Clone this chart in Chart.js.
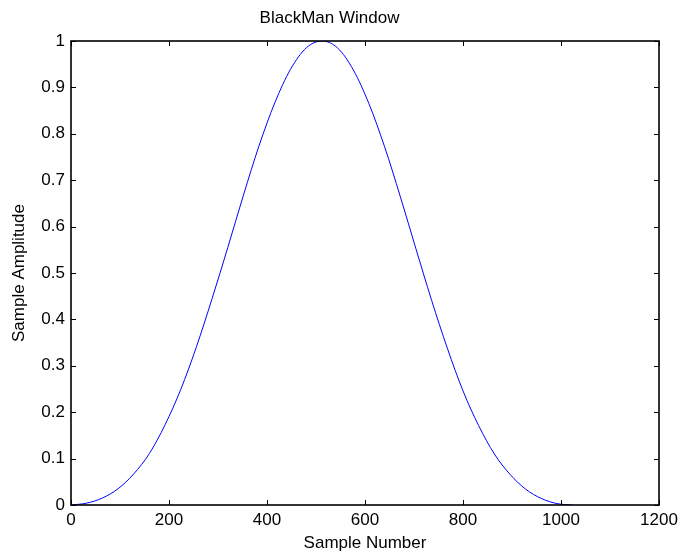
<!DOCTYPE html>
<html>
<head>
<meta charset="utf-8">
<script src="https://cdn.jsdelivr.net/npm/chart.js@4/dist/chart.umd.min.js"></script>
<style>
html,body{margin:0;padding:0;background:#fff;}
#wrap{width:680px;height:552px;}
</style>
</head>
<body>
<div id="wrap"><canvas id="c" width="680" height="552"></canvas></div>
<script>
// Sample numbers and amplitudes
const sampleNumbers = [0,32,64,96,128,160,192,224,256,288,320,352,384,416,448,480,512,544,576,608,640,672,704,736,768,800,832,864,896,928,960,992,1023];
const amplitudes = [0,0.004,0.015,0.035,0.067,0.111,0.173,0.249,0.341,0.445,0.555,0.668,0.775,0.867,0.939,0.985,1.0,0.985,0.938,0.865,0.772,0.665,0.552,0.441,0.338,0.246,0.171,0.110,0.066,0.034,0.014,0.003,0];
const xTicks = [0,200,400,600,800,1000,1200];
const yTicks = [0,0.1,0.2,0.3,0.4,0.5,0.6,0.7,0.8,0.9,1];
const xTickLabels = ['0','200','400','600','800','1000','1200'];
const yTickLabels = ['0','0.1','0.2','0.3','0.4','0.5','0.6','0.7','0.8','0.9','1'];
const titleText = 'BlackMan Window';
const xTitle = 'Sample Number';
const yTitle = 'Sample Amplitude';

const FONT = 'Liberation Sans, Arial, sans-serif';
const FS = 17;

const boxPlugin = {
  id: 'boxTicks',
  afterDraw(chart) {
    const {ctx, chartArea: a, scales: {x, y}} = chart;
    ctx.save();
    ctx.strokeStyle = '#000';
    ctx.lineWidth = 1;
    const L = 5;
    ctx.beginPath();
    xTicks.forEach(v => {
      const px = Math.round(x.getPixelForValue(v)) + 0.5;
      ctx.moveTo(px, a.bottom); ctx.lineTo(px, a.bottom - L);
      ctx.moveTo(px, a.top); ctx.lineTo(px, a.top + L);
    });
    yTicks.forEach(v => {
      const py = Math.round(y.getPixelForValue(v)) + 0.5;
      ctx.moveTo(a.left, py); ctx.lineTo(a.left + L, py);
      ctx.moveTo(a.right, py); ctx.lineTo(a.right - L, py);
    });
    ctx.stroke();
    ctx.lineWidth = 1.6;
    ctx.strokeRect(a.left, a.top, a.right - a.left, a.bottom - a.top);
    ctx.restore();
  }
};

new Chart(document.getElementById('c'), {
  type: 'line',
  data: {
    datasets: [{
      data: sampleNumbers.map((s, i) => ({x: s, y: amplitudes[i]})),
      borderColor: '#0000ff',
      borderWidth: 1,
      pointRadius: 0,
      fill: false,
      tension: 0.4,
      cubicInterpolationMode: 'monotone'
    }]
  },
  options: {
    responsive: false,
    animation: false,
    layout: {padding: {left: 0, right: 21, top: 0, bottom: 0}},
    plugins: {
      legend: {display: false},
      tooltip: {enabled: false},
      title: {
        display: true,
        text: titleText,
        color: '#000',
        font: {family: FONT, size: FS, weight: 'normal', lineHeight: 1.2},
        padding: {top: 8, bottom: 12.6}
      }
    },
    scales: {
      x: {
        type: 'linear',
        min: 0, max: 1200,
        afterBuildTicks(s) { s.ticks = xTicks.map(v => ({value: v})); },
        afterFit(s) { s.height = 47; s.paddingLeft = 0; s.paddingRight = 0; },
        grid: {display: false, drawTicks: false},
        border: {display: false},
        ticks: {
          color: '#000',
          padding: 5,
          maxRotation: 0,
          autoSkip: false,
          font: {family: FONT, size: FS},
          callback: (v) => xTickLabels[xTicks.indexOf(v)]
        },
        title: {
          display: true, text: xTitle, color: '#000',
          font: {family: FONT, size: FS, lineHeight: 1.0},
          padding: {top: 0, bottom: 0}
        }
      },
      y: {
        type: 'linear',
        min: 0, max: 1,
        afterBuildTicks(s) { s.ticks = yTicks.map(v => ({value: v})); },
        afterFit(s) { s.width = 71; s.paddingTop = 0; s.paddingBottom = 0; },
        grid: {display: false, drawTicks: false},
        border: {display: false},
        ticks: {
          color: '#000',
          padding: 6,
          autoSkip: false,
          font: {family: FONT, size: FS},
          callback: (v) => yTickLabels[yTicks.findIndex(t => Math.abs(t - v) < 1e-9)]
        },
        title: {
          display: true, text: yTitle, color: '#000',
          font: {family: FONT, size: FS, lineHeight: 1.0},
          padding: {top: 10.5, bottom: 0}
        }
      }
    }
  },
  plugins: [boxPlugin]
});
</script>
</body>
</html>
